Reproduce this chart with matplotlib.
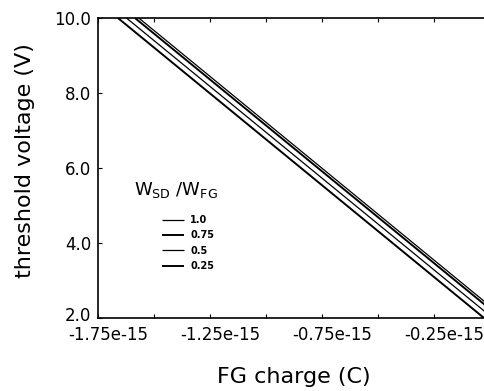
import matplotlib
matplotlib.use("Agg")
import matplotlib.pyplot as plt
import matplotlib.transforms as mtransforms
from matplotlib.ticker import FixedLocator

# ---- data (charge in C, threshold voltage in V) ----
ratio_labels = ["1.0", "0.75", "0.5", "0.25"]
charge_1_0 = [-1.568e-15, 0.0]
vt_1_0 = [10.0, 2.32]
charge_0_75 = [-1.585e-15, 0.0]
vt_0_75 = [10.0, 2.24]
charge_0_5 = [-1.623e-15, 0.0]
vt_0_5 = [10.0, 2.06]
charge_0_25 = [-1.661e-15, 0.0]
vt_0_25 = [10.0, 1.87]

x_major = [-1.75e-15, -1.25e-15, -0.75e-15, -0.25e-15]
x_major_labels = ["-1.75e-15", "-1.25e-15", "-0.75e-15", "-0.25e-15"]
x_minor = [-1.5e-15, -1.0e-15, -0.5e-15]
y_major = [2.0, 4.0, 6.0, 8.0, 10.0]
y_major_labels = ["2.0", "4.0", "6.0", "8.0", "10.0"]

W, H = 484, 391
fig = plt.figure(figsize=(W / 100, H / 100), dpi=100)
left, right, top, bottom = 98, 490, 18, 318
ax = fig.add_axes([left / W, 1 - bottom / H, (right - left) / W, (bottom - top) / H])


def ax_xy(px, py):
    return (px - left) / (right - left), 1 - (py - top) / (bottom - top)


series = [
    (charge_1_0, vt_1_0, 0.9),
    (charge_0_75, vt_0_75, 1.4),
    (charge_0_5, vt_0_5, 0.9),
    (charge_0_25, vt_0_25, 1.4),
]
for (xs, ys, lw), lab in zip(series, ratio_labels):
    ax.plot(xs, ys, color="black", lw=lw, label=lab, solid_capstyle="butt")

ax.set_xlim(-1.75e-15, 0.0)
ax.set_ylim(2.0, 10.0)

ax.xaxis.set_major_locator(FixedLocator(x_major))
ax.set_xticklabels(x_major_labels)
ax.xaxis.set_minor_locator(FixedLocator(x_minor))
ax.yaxis.set_major_locator(FixedLocator(y_major))
ax.set_yticklabels(y_major_labels)

ax.tick_params(axis="both", which="both", direction="in", top=True, right=False,
               length=3, width=0.8, labelsize=12)
ax.tick_params(axis="x", pad=6)
ax.tick_params(axis="y", pad=5)
ax.spines["right"].set_visible(False)
for s in ["left", "top", "bottom"]:
    ax.spines[s].set_linewidth(1.2)

# shift x tick labels slightly right as in the original
offset = mtransforms.ScaledTranslation(10 / 100, 0, fig.dpi_scale_trans)
for lbl in ax.get_xticklabels():
    lbl.set_transform(lbl.get_transform() + offset)
# lift the lowest y label a little
yl = ax.get_yticklabels()[0]
yl.set_transform(yl.get_transform() + mtransforms.ScaledTranslation(0, 4 / 100, fig.dpi_scale_trans))

ax.set_ylabel("threshold voltage (V)", fontsize=16)
ax.yaxis.set_label_coords((35 - left) / (right - left), 0.525)
ax.set_xlabel("FG charge (C)", fontsize=16, labelpad=16)

# legend title and entries
ax.text(*ax_xy(134, 190), r"W$_{\rm SD}$ /W$_{\rm FG}$", transform=ax.transAxes,
        fontsize=13, ha="left", va="center")
ax.legend(frameon=False, prop={"size": 7, "weight": "bold"}, handlelength=2.3,
          handletextpad=0.6, labelspacing=0.55, loc="upper left",
          borderpad=0, borderaxespad=0, bbox_to_anchor=ax_xy(162, 215))

fig.savefig("out.png", dpi=100)
